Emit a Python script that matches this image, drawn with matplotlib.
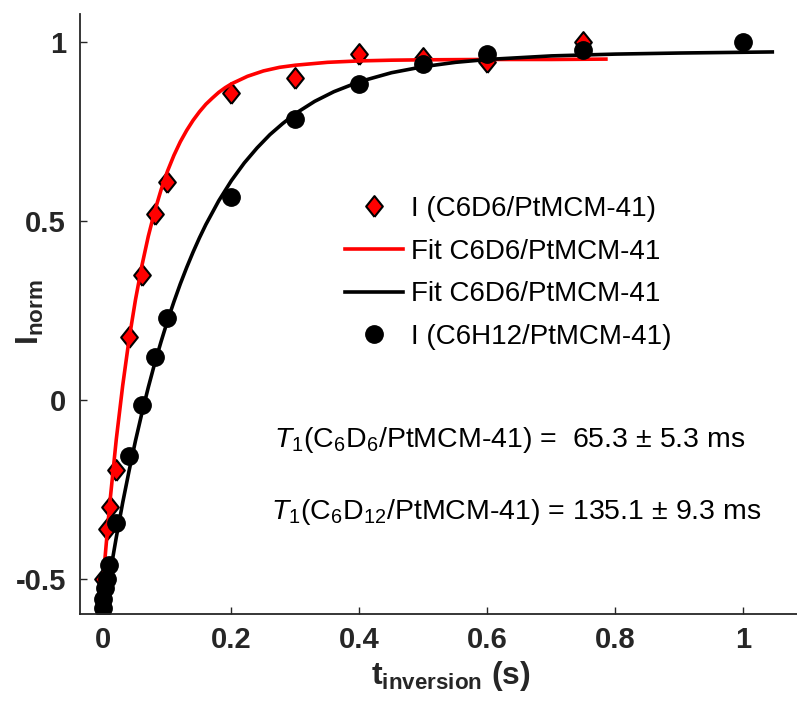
import numpy as np
import matplotlib
matplotlib.use('Agg')
import matplotlib.pyplot as plt

plt.rcParams['font.family'] = ['Liberation Sans', 'DejaVu Sans']
plt.rcParams['mathtext.fontset'] = 'custom'
plt.rcParams['mathtext.rm'] = 'Liberation Sans'
plt.rcParams['mathtext.it'] = 'Liberation Sans:italic'
plt.rcParams['mathtext.bf'] = 'Liberation Sans:bold'

# measured points, C6D6 (diamonds)
t_d6 = [0.0, 0.005, 0.01, 0.02, 0.04, 0.06, 0.08, 0.1, 0.2, 0.3, 0.4, 0.5, 0.6, 0.75]
I_d6 = [-0.50, -0.36, -0.30, -0.196, 0.176, 0.35, 0.52, 0.61, 0.858, 0.90, 0.965, 0.955, 0.945, 1.0]

# measured points, C6H12 (circles)
t_h12 = [0.0, 0.0, 0.002, 0.005, 0.008, 0.02, 0.04, 0.06, 0.08, 0.1, 0.2, 0.3, 0.4, 0.5, 0.6, 0.75, 1.0]
I_h12 = [-0.58, -0.555, -0.525, -0.50, -0.46, -0.345, -0.156, -0.015, 0.12, 0.23, 0.567, 0.785,
         0.883, 0.938, 0.966, 0.977, 1.0]

# fit curves
t_fit_red = [0.0, 0.01, 0.02, 0.03, 0.04, 0.05, 0.06, 0.07, 0.08, 0.09, 0.10, 0.11, 0.12, 0.13,
             0.14, 0.15, 0.16, 0.17, 0.18, 0.19, 0.20, 0.225, 0.25, 0.275, 0.30, 0.35, 0.40,
             0.45, 0.50, 0.60, 0.70, 0.785]
I_fit_red = [-0.490, -0.286, -0.110, 0.040, 0.170, 0.280, 0.375, 0.457, 0.527, 0.587, 0.639,
             0.683, 0.721, 0.753, 0.781, 0.805, 0.826, 0.843, 0.859, 0.872, 0.883, 0.904, 0.919,
             0.929, 0.935, 0.943, 0.947, 0.949, 0.950, 0.951, 0.951, 0.952]

t_fit_blk = [0.0, 0.01, 0.02, 0.03, 0.04, 0.05, 0.06, 0.07, 0.08, 0.09, 0.10, 0.11, 0.12, 0.13,
             0.14, 0.15, 0.16, 0.18, 0.20, 0.22, 0.24, 0.26, 0.28, 0.30, 0.33, 0.36, 0.40, 0.45,
             0.50, 0.55, 0.60, 0.70, 0.80, 0.90, 1.045]
I_fit_blk = [-0.600, -0.488, -0.384, -0.287, -0.198, -0.114, -0.037, 0.035, 0.102, 0.163, 0.221,
             0.274, 0.324, 0.370, 0.413, 0.453, 0.490, 0.556, 0.613, 0.662, 0.704, 0.741, 0.772,
             0.800, 0.834, 0.861, 0.889, 0.914, 0.931, 0.943, 0.951, 0.961, 0.966, 0.969, 0.972]

W, H = 797, 711
fig = plt.figure(figsize=(W / 100, H / 100), dpi=100)
ax = fig.add_axes([80 / W, 1 - 614 / H, (W - 80) / W, 600 / H])

diamond = [(0, -1), (0.8, 0), (0, 1), (-0.8, 0), (0, -1)]
ax.plot(t_d6, I_d6, ls='none', marker=diamond, ms=15, mfc='#ff0000', mec='black', mew=1.5,
        label='I (C6D6/PtMCM-41)')
ax.plot(t_fit_red, I_fit_red, c='#ff0000', lw=2.6, label='Fit C6D6/PtMCM-41')
ax.plot(t_fit_blk, I_fit_blk, c='black', lw=2.6, label='Fit C6D6/PtMCM-41')
ax.plot(t_h12, I_h12, ls='none', marker='o', ms=12.5, mfc='black', mec='black',
        label='I (C6H12/PtMCM-41)')

ax.set_xlim(-0.0367, 1.0836)
ax.set_ylim(-0.598, 1.078)
ax.set_xticks([0, 0.2, 0.4, 0.6, 0.8, 1])
ax.set_xticklabels(['0', '0.2', '0.4', '0.6', '0.8', '1'])
ax.set_yticks([-0.5, 0, 0.5, 1])
ax.set_yticklabels(['-0.5', '0', '0.5', '1'])

for s in ['top', 'right']:
    ax.spines[s].set_visible(False)
for s in ['left', 'bottom']:
    ax.spines[s].set_linewidth(1.3)
    ax.spines[s].set_color('#262626')

ax.tick_params(direction='in', length=5, width=1, colors='#262626')
ax.tick_params(axis='y', pad=10)
ax.tick_params(axis='x', pad=9)
for lab in ax.get_yticklabels() + ax.get_xticklabels():
    lab.set_fontsize(21)
    lab.set_fontweight('bold')

leg = ax.legend(loc='upper left', bbox_to_anchor=(345 / W, 1 - 196 / H),
                bbox_transform=fig.transFigure, frameon=False, fontsize=20,
                handlelength=2.1, handletextpad=0.28, labelspacing=0.6,
                borderpad=0, borderaxespad=0)

fig.text(30 / W, 1 - 312 / H, r'$\mathbf{I_{norm}}$', rotation=90, ha='center', va='center',
         fontsize=23, color='#262626')
fig.text(451 / W, 1 - 676 / H, r'$\mathbf{t_{inversion}}$ $\mathbf{(s)}$', ha='center',
         va='center', fontsize=23, color='#262626')

fig.text(274 / W, 1 - 440 / H, r'$\mathit{T}_1$(C$_6$D$_6$/PtMCM-41) =  65.3 ± 5.3 ms',
         ha='left', va='center', fontsize=20.5)
fig.text(271 / W, 1 - 512 / H, r'$\mathit{T}_1$(C$_6$D$_{12}$/PtMCM-41) = 135.1 ± 9.3 ms',
         ha='left', va='center', fontsize=20.5)

fig.savefig('out.png', dpi=100)
